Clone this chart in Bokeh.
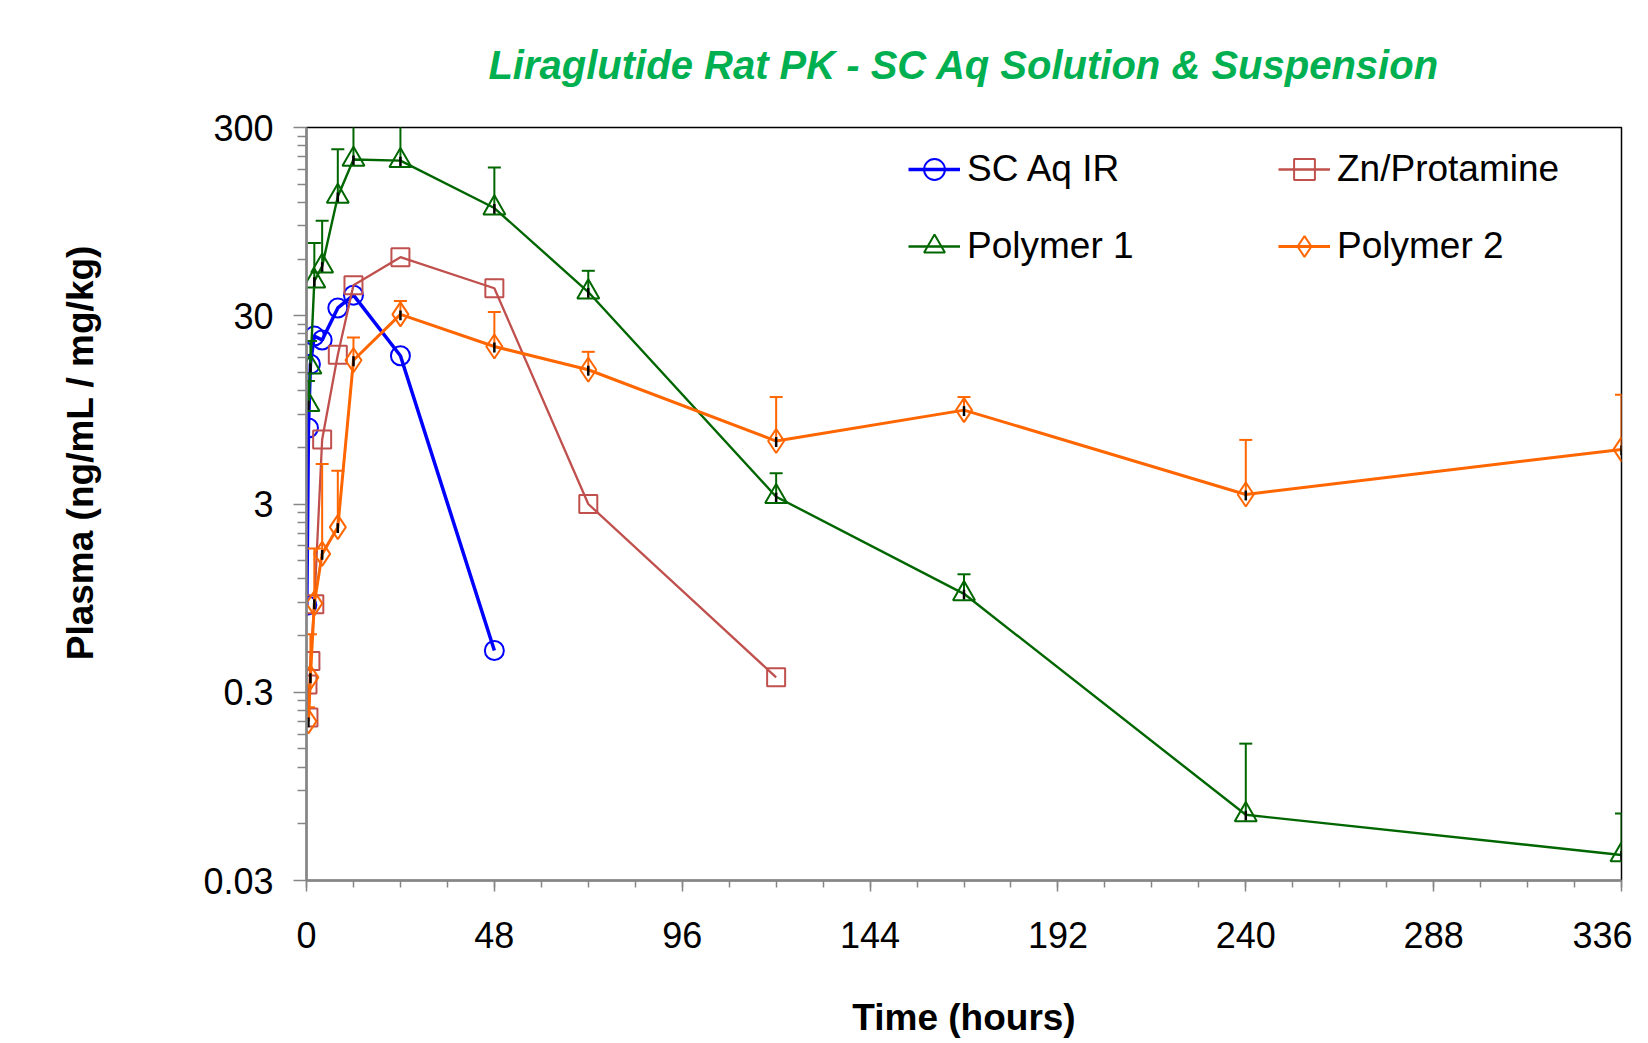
from bokeh.plotting import figure
from bokeh.models import FixedTicker, Legend, LegendItem
from bokeh.embed import file_html
from bokeh.resources import INLINE

# ---------------- data ----------------
title_text = "Liraglutide Rat PK - SC Aq Solution & Suspension"
x_label = "Time (hours)"
y_label = "Plasma (ng/mL / mg/kg)"

x_ticks = [0, 48, 96, 144, 192, 240, 288, 336]
y_ticks = [0.03, 0.3, 3, 30, 300]
y_tick_labels = ["0.03", "0.3", "3", "30", "300"]

sc_name = "SC Aq IR"
sc_t = [0.083, 0.5, 1, 2, 4, 8, 12, 24, 48]
sc_v = [0.87, 7.6, 16.6, 23.4, 22.3, 33.0, 38.6, 18.4, 0.50]

zn_name = "Zn/Protamine"
zn_t = [0.25, 0.5, 1, 2, 4, 8, 12, 24, 48, 72, 120]
zn_v = [0.33, 0.22, 0.44, 0.88, 6.6, 18.6, 43.6, 61.4, 42.0, 3.0, 0.36]

p1_name = "Polymer 1"
p1_t = [0.5, 1, 2, 4, 8, 12, 24, 48, 72, 120, 168, 240, 336]
p1_v = [10.1, 16.0, 45.8, 55.0, 129, 203, 200, 112, 40.1, 3.28, 1.0, 0.067, 0.041]
p1_hi = [13.5, 22.0, 73, 96, 230, 420, 400, 184, 52, 4.37, 1.27, 0.16, 0.068]

p2_name = "Polymer 2"
p2_t = [0.5, 1, 2, 4, 8, 12, 24, 48, 72, 120, 168, 240, 336]
p2_v = [0.21, 0.36, 0.89, 1.63, 2.26, 17.4, 30.5, 20.6, 15.5, 6.48, 9.46, 3.37, 5.85]
p2_hi = [0.25, 0.61, 1.74, 4.9, 4.5, 23.0, 35.9, 31.4, 19.3, 11.1, 11.1, 6.57, 11.4]

# ---------------- styles ----------------
FONT = "Liberation Sans"
BLUE = "#0000FF"
RED = "#C0504D"
GREEN = "#006600"
ORANGE = "#FF6600"
AXIS_GRAY = "#868686"

p = figure(width=1632, height=1040, y_axis_type="log",
           x_range=(0, 336), y_range=(0.03, 300),
           output_backend="svg", toolbar_location=None,
           min_border_left=306, min_border_right=11,
           min_border_top=126, min_border_bottom=146,
           background_fill_color="white", border_fill_color="white")

p.title.text = title_text
p.title.text_font = FONT
p.title.text_font_size = "40px"
p.title.text_font_style = "bold italic"
p.title.text_color = "#00B050"
p.title.align = "center"
p.title.standoff = 81

p.xgrid.visible = False
p.ygrid.visible = False
p.outline_line_color = "black"
p.outline_line_width = 1.5

# x axis
p.xaxis.ticker = FixedTicker(ticks=x_ticks, minor_ticks=list(range(0, 337, 12)))
p.xaxis.axis_label = x_label
# y axis (label sits above the frame centre in the original: lead it with no-break spaces)
minor_y = [d * k for d in (0.03, 0.3, 3, 30) for k in range(2, 10)]
p.yaxis.ticker = FixedTicker(ticks=y_ticks, minor_ticks=minor_y)
p.yaxis.major_label_overrides = dict(zip(y_ticks, y_tick_labels))
p.yaxis.axis_label = "\u00a0" * 10 + y_label

for ax in (p.xaxis[0], p.yaxis[0]):
    ax.axis_line_color = AXIS_GRAY
    ax.axis_line_width = 2.5
    ax.major_tick_line_color = AXIS_GRAY
    ax.major_tick_line_width = 1.5
    ax.minor_tick_line_color = AXIS_GRAY
    ax.minor_tick_line_width = 1.5
    ax.major_tick_in = 0
    ax.minor_tick_in = 0
    ax.major_label_text_font = FONT
    ax.major_label_text_font_size = "36px"
    ax.major_label_text_color = "black"
    ax.axis_label_text_font = FONT
    ax.axis_label_text_font_size = "37px"
    ax.axis_label_text_font_style = "bold"
    ax.axis_label_text_color = "black"

p.xaxis.major_tick_out = 11
p.xaxis.minor_tick_out = 7
p.xaxis.major_label_standoff = 30
p.xaxis.axis_label_standoff = 46
p.yaxis.major_tick_out = 13
p.yaxis.minor_tick_out = 9
p.yaxis.major_label_standoff = 20
p.yaxis.axis_label_standoff = 99


def series(t, v, color, lw, marker, msize, hi=None):
    r_line = p.line(t, v, line_color=color, line_width=lw)
    if hi is not None:
        p.segment(x0=t, y0=v, x1=t, y1=hi, line_color=color, line_width=2)
        p.scatter(t, hi, marker="dash", size=13, line_color=color, line_width=2)
        p.segment(x0=t, y0=[a * 0.93 for a in v], x1=t, y1=[a * 1.05 for a in v],
                  line_color="black", line_width=2.5)
    r_mark = p.scatter(t, v, marker=marker, size=msize, line_color=color,
                       line_width=2, fill_color=None)
    return [r_line, r_mark]


r_sc = series(sc_t, sc_v, BLUE, 3.5, "circle", 19)
r_zn = series(zn_t, zn_v, RED, 2.3, "square", 18)
r_p1 = series(p1_t, p1_v, GREEN, 2.4, "triangle", 22, p1_hi)
r_p2 = series(p2_t, p2_v, ORANGE, 3, "diamond", 24, p2_hi)


def make_legend(items, loc):
    lg = Legend(items=items, location=loc, orientation="vertical")
    lg.label_text_font = FONT
    lg.label_text_font_size = "37px"
    lg.label_text_color = "black"
    lg.glyph_width = 52
    lg.glyph_height = 60
    lg.label_height = 60
    lg.label_standoff = 7
    lg.spacing = 17
    lg.padding = 0
    lg.margin = 0
    lg.border_line_color = None
    lg.background_fill_alpha = 0
    return lg


leg1 = make_legend([LegendItem(label=sc_name, renderers=r_sc),
                    LegendItem(label=p1_name, renderers=r_p1)], (602, 604))
leg2 = make_legend([LegendItem(label=zn_name, renderers=r_zn),
                    LegendItem(label=p2_name, renderers=r_p2)], (972, 604))
p.add_layout(leg1)
p.add_layout(leg2)

open("out.html", "w").write(file_html(p, INLINE))
